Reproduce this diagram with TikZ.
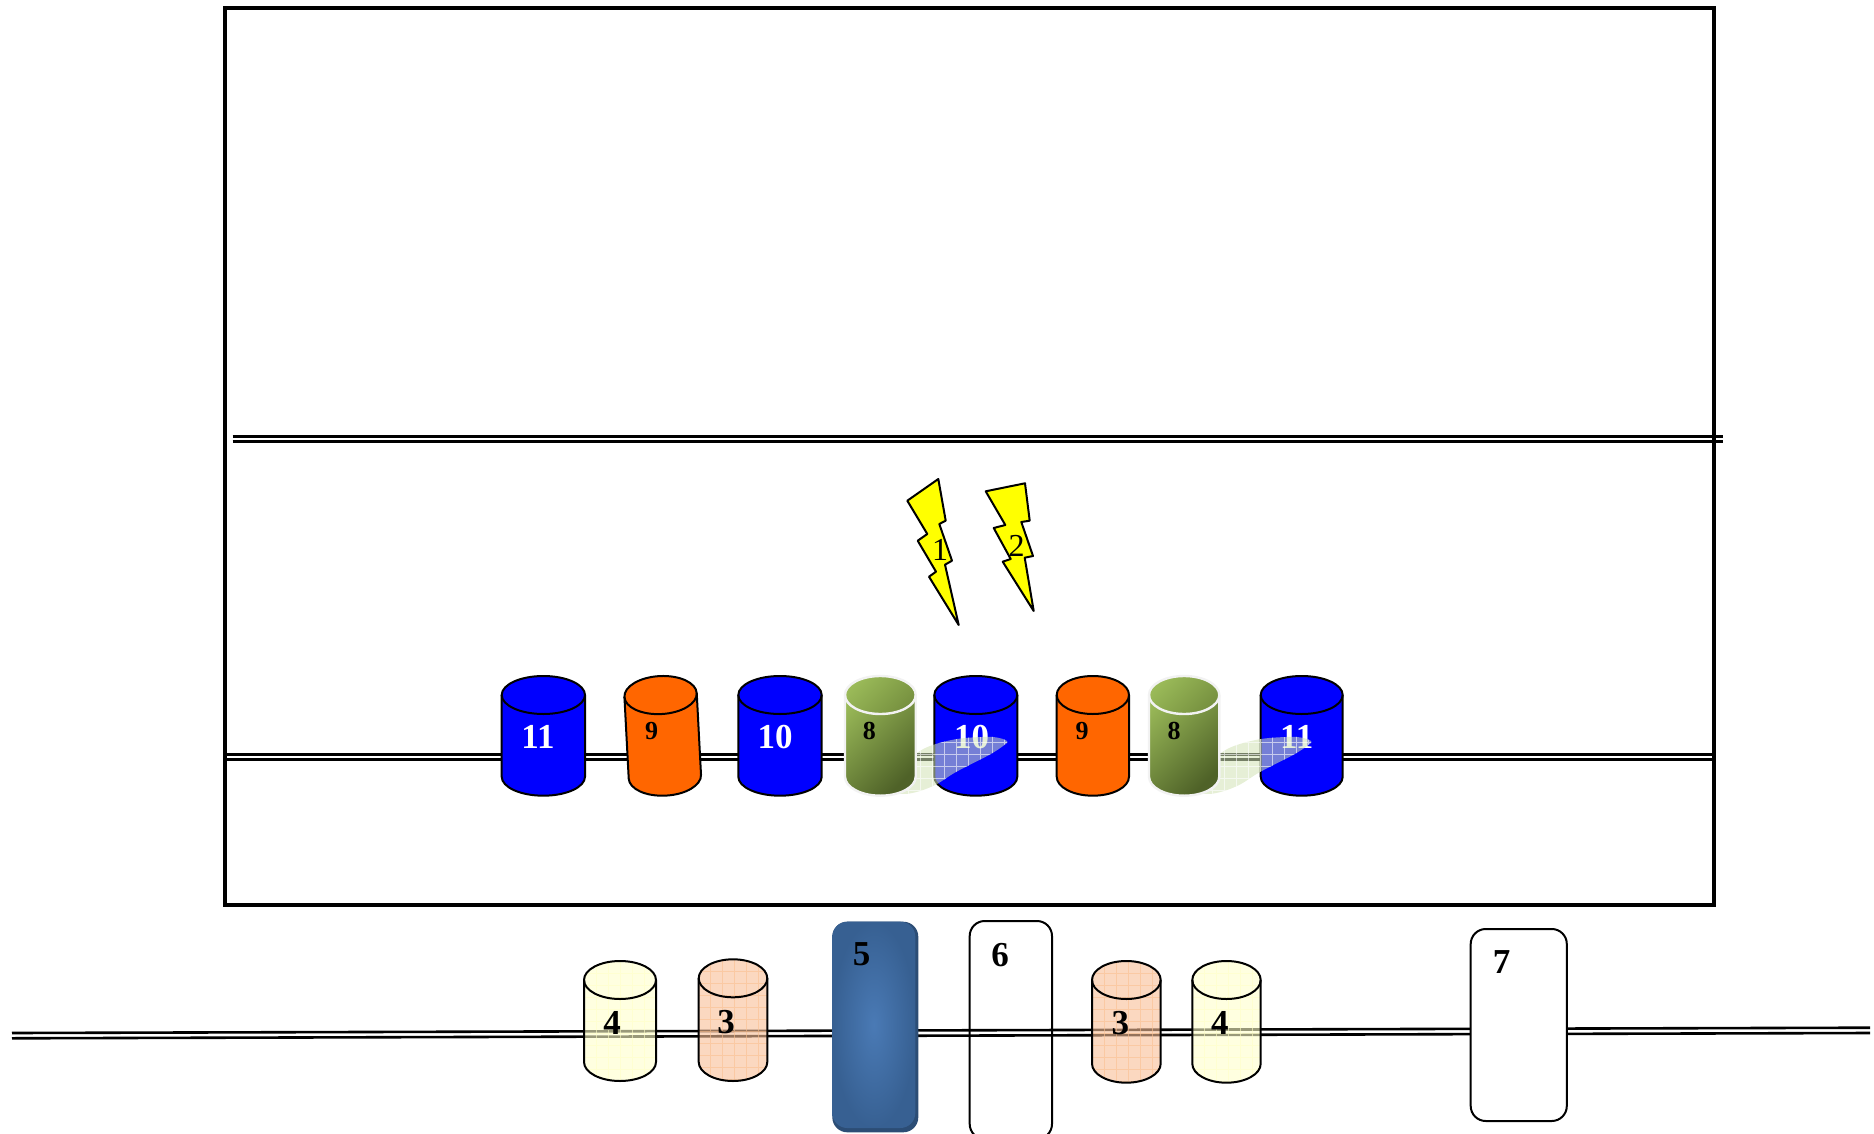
\documentclass[tikz,border=0pt]{standalone}
\usepackage{fontspec}
\setmainfont{Liberation Serif}
\usetikzlibrary{calc}
\definecolor{cylblue}{HTML}{0000FF}
\definecolor{cylorange}{HTML}{FF6600}
\definecolor{boltyellow}{HTML}{FFFF00}
\definecolor{peachfill}{HTML}{F8BE96}
\definecolor{peachgrid}{HTML}{FAC090}
\definecolor{creamfill}{HTML}{FFFFCB}
\definecolor{creamgrid}{HTML}{FFFFC8}
\definecolor{olivelight}{HTML}{9BBB59}
\definecolor{olivedark}{HTML}{4F6228}
\definecolor{olivemid}{HTML}{76903F}
\definecolor{cylrim}{HTML}{F2F2F2}
\definecolor{shadowtint}{RGB}{210,227,182}
\definecolor{steelmid}{HTML}{4A7AB5}
\definecolor{steeledge}{HTML}{376092}
\definecolor{steeldark}{HTML}{2C4D75}
\tikzset{
  framebox/.style={draw=black,line width=4pt},
  railline/.style={draw=black,line width=2.6pt},
  cylline/.style={draw=black,line width=2pt},
  rimline/.style={draw=cylrim,line width=2.4pt},
  bigbold/.style={font=\fontsize{35}{35}\selectfont\bfseries,inner sep=0pt},
  smallbold/.style={font=\fontsize{26}{26}\selectfont\bfseries,inner sep=0pt},
  boltlabel/.style={font=\fontsize{32}{32}\selectfont,inner sep=0pt},
  bolt/.style={draw=black,line width=2pt,fill=boltyellow,line join=round},
  roundbox/.style={draw=black,line width=2pt,rounded corners=15pt},
}
% left, right, top, bottom
\newcommand{\cylset}[4]{%
  \pgfmathsetmacro\cxl{#1}\pgfmathsetmacro\cxr{#2}%
  \pgfmathsetmacro\crx{(#2-#1)/2}\pgfmathsetmacro\cxm{(#1+#2)/2}%
  \pgfmathsetmacro\cyu{#3+19}\pgfmathsetmacro\cyd{#4-19}%
  \def\cylbody{(\cxl,\cyu) arc[start angle=180,end angle=0,x radius=\crx pt,y radius=19pt]
    -- (\cxr,\cyd) arc[start angle=0,end angle=-180,x radius=\crx pt,y radius=19pt] -- cycle}%
  \def\cyltop{(\cxm,\cyu) ellipse[x radius=\crx pt,y radius=19pt]}%
  \def\cylfront{(\cxl,\cyu) arc[start angle=180,end angle=360,x radius=\crx pt,y radius=19pt]}%
}
\newcommand{\solidcyl}[5]{%
  \cylset{#2}{#3}{#4}{#5}%
  \path[fill=#1] \cylbody;
  \path[cylline] \cylbody;
  \path[cylline] \cylfront;
}
\newcommand{\olivecyl}[4]{%
  \cylset{#1}{#2}{#3}{#4}%
  \shade[left color=olivelight,right color=olivedark,shading angle=45] \cylbody;
  \shade[left color=olivelight,right color=olivemid,shading angle=45] \cyltop;
  \path[rimline] \cylbody;
  \path[rimline] \cylfront;
}
% fill, grid colour, left, right, top, bottom
\newcommand{\glasscyl}[6]{%
  \cylset{#3}{#4}{#5}{#6}%
  \path[fill=#1,fill opacity=.6] \cylbody;
  \begin{scope}
    \clip \cylbody;
    \draw[#2,opacity=.6,line width=.7pt,shift={(#3,#5)}] (0,0) grid[step=12pt] (90,130);
  \end{scope}
  \path[cylline] \cylbody;
  \path[cylline] \cylfront;
}
% dx: shadow cast by the olive cylinder
\newcommand{\castshadow}[1]{%
  \begin{scope}[xshift=#1pt]
    \def\shadowpath{plot[smooth cycle,tension=.55] coordinates {(1007,741) (993,737) (965,738) (947,741) (930,746) (917,753) (895,772) (880,790) (903,794) (920,791) (937,784) (956,772) (989,755) (1003,746)}}
    \path[fill=shadowtint,fill opacity=.56] \shadowpath;
    \begin{scope}
      \clip \shadowpath;
      \draw[white,opacity=.6,line width=.8pt,shift={(872,730)}] (0,0) grid[step=12pt] (140,70);
    \end{scope}
  \end{scope}
}
\begin{document}
\begin{tikzpicture}[x=1pt,y=-1pt]
\useasboundingbox (0,0) rectangle (1874,1134);

\coordinate (f1) at (225,7.6);
\coordinate (f2) at (1714,904.5);
\draw[framebox] (f1) rectangle (f2);

\coordinate (ua1) at (232.5,436.4);
\coordinate (ua2) at (1722.7,436.4);
\coordinate (ub1) at (232.5,441.6);
\coordinate (ub2) at (1722.7,441.6);
\draw[railline] (ua1) -- (ua2);
\draw[railline] (ub1) -- (ub2);

\coordinate (ma1) at (225,754.4);
\coordinate (ma2) at (1712.5,754.4);
\coordinate (mb1) at (225,759.7);
\coordinate (mb2) at (1712.5,759.7);
\draw[railline] (ma1) -- (ma2);
\draw[railline] (mb1) -- (mb2);

\coordinate (la1) at (12,1033);
\coordinate (la2) at (1870,1027.7);
\coordinate (lb1) at (12,1038.3);
\coordinate (lb2) at (1870,1033);
\draw[railline] (la1) -- (la2);
\draw[railline] (lb1) -- (lb2);

% bolts
\draw[bolt] (938.3,479) -- (945.7,520.7) -- (939.3,524) -- (952,560.7) -- (945,564.7) -- (958.7,625) -- (929,576.7) -- (936,571.7) -- (917.7,540.7) -- (927.3,534) -- (907.3,500.7) -- cycle;
\draw[bolt] (1025,483.3) -- (1029.7,520.7) -- (1021.3,522) -- (1033,556) -- (1024.7,557.7) -- (1033.7,611) -- (1002.7,561.7) -- (1010.7,559) -- (993.7,528) -- (1005.3,525) -- (985.7,491.3) -- cycle;
\node[boltlabel] (b1) at (940,550) {1};
\node[boltlabel] (b2) at (1016.7,545.7) {2};

% upper row
\solidcyl{cylblue}{501.7}{585}{676}{795.7}
\begin{scope}[rotate around={3:(662.7,735.5)}]
\solidcyl{cylorange}{626.5}{698.9}{676}{795.7}
\end{scope}
\solidcyl{cylblue}{738.3}{821.7}{676}{795.7}
\solidcyl{cylblue}{934.3}{1017.3}{676}{795.7}
\solidcyl{cylorange}{1056.7}{1129}{676}{795.7}
\solidcyl{cylblue}{1260.7}{1342.7}{676}{795.7}

\node[bigbold,text=white] (n11a) at (538,737) {11};
\node[bigbold,text=white] (n10a) at (775,737) {10};
\node[bigbold,text=white] (n10b) at (971.5,737) {10};
\node[bigbold,text=white] (n11b) at (1296.7,737) {11};

\castshadow{0}
\castshadow{304}
\olivecyl{845}{915.7}{676}{795.7}
\olivecyl{1149}{1219.3}{676}{795.7}

\node[smallbold] (n9a) at (651.7,730.7) {9};
\node[smallbold] (n8a) at (869.3,731) {8};
\node[smallbold] (n9b) at (1082,731) {9};
\node[smallbold] (n8b) at (1174,731) {8};

% lower row
\glasscyl{creamfill}{creamgrid}{584}{656}{961}{1081}
\glasscyl{peachfill}{peachgrid}{698.7}{767.3}{959.3}{1081}
\glasscyl{peachfill}{peachgrid}{1092}{1160.7}{961}{1082.7}
\glasscyl{creamfill}{creamgrid}{1192.3}{1260.7}{961}{1082.7}
\node[bigbold] (n4a) at (612,1023.3) {4};
\node[bigbold] (n3a) at (726,1021.7) {3};
\node[bigbold] (n3b) at (1120.3,1023.3) {3};
\node[bigbold] (n4b) at (1219.8,1023.3) {4};

% box 5
\path[fill=steeldark,rounded corners=15pt] (832.3,921.7) rectangle (918.3,1132.3);
\shade[inner color=steelmid,outer color=steeledge,rounded corners=15pt] (832.3,921.7) rectangle (915.3,1128);
\node[bigbold] (n5) at (861.7,954) {5};

% box 6
\draw[roundbox] (969.7,921) rectangle (1052,1139);
\node[bigbold] (n6) at (1000,955) {6};

% box 7
\draw[roundbox,fill=white] (1470.7,929) rectangle (1566.8,1121);
\node[bigbold] (n7) at (1501.5,962.3) {7};
\end{tikzpicture}
\end{document}
